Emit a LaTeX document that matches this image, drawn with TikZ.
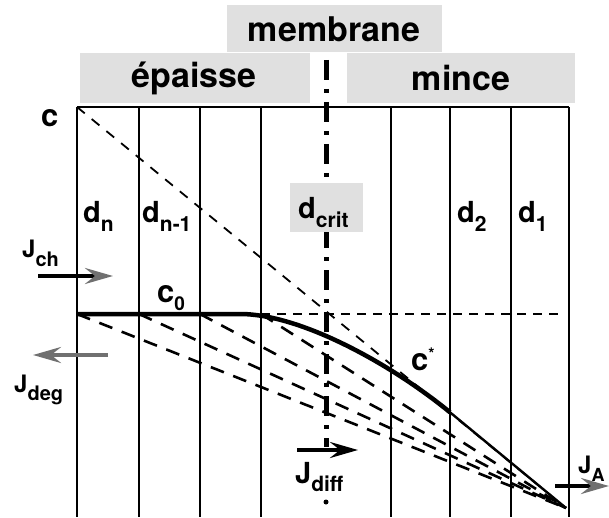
\documentclass[tikz,border=0pt]{standalone}
\usepackage{fontspec}
\setmainfont{TeX Gyre Heros}
\usetikzlibrary{arrows.meta, positioning, calc}
\definecolor{headgray}{HTML}{E0E0E0}
\definecolor{tipgray}{HTML}{707070}
\newcommand\lowidx[2][21]{\raisebox{-8pt}{\fontsize{#1}{#1}\selectfont #2}}

\begin{document}
\begin{tikzpicture}[x=1pt, y=1pt,
    headbox/.style={rectangle, fill=headgray, draw=none},
    headtext/.style={font=\fontsize{34}{34}\selectfont\bfseries, inner sep=0pt},
    lbl/.style={font=\fontsize{29}{29}\selectfont\bfseries, inner sep=0pt, anchor=base west},
    conc/.style={lbl, font=\fontsize{31}{31}\selectfont\bfseries},
    fluxlbl/.style={lbl, font=\fontsize{24}{24}\selectfont\bfseries},
    wall/.style={line width=2.4pt},
    profile/.style={line width=4.5pt, line join=round},
    fan/.style={line width=2.6pt, dash pattern=on 14pt off 10pt},
    guide/.style={line width=1.8pt, dash pattern=on 10pt off 9pt},
    level/.style={line width=2.4pt, dash pattern=on 9pt off 7pt},
    critline/.style={line width=5pt, dash pattern=on 20pt off 9pt on 4pt off 9pt},
    flux/.style={line width=4pt, -{Stealth[length=28pt, width=16pt, inset=10pt, color=tipgray]}},
]
    \useasboundingbox (0,0) rectangle (609,517);

    % header
    \fill[headbox] (227,465) rectangle (442,512);
    \fill[headbox] (80,414) rectangle (310,464);
    \fill[headbox] (347,414) rectangle (575,464);
    \node[headtext] (membrane) at (334,488) {membrane};
    \node[headtext] (epaisse) at (194,439) {épaisse};
    \node[headtext] (mince) at (461,439) {mince};

    % key points
    \coordinate (corner) at (77,410);
    \coordinate (c0start) at (77,203);
    \coordinate (knee) at (240,203);
    \coordinate (join) at (450,104.7);
    \coordinate (end) at (566,9);

    % membrane slices
    \draw[wall] (77,410) -- (569,410);
    \foreach \x in {77,139,200,261,391,450,511,569}
        \draw[wall] (\x,410) -- (\x,0);

    % profiles
    \foreach \x in {77,139,200,261}
        \draw[fan] (\x,203) -- (end);
    \draw[guide] (corner) -- (end);
    \draw[level] (261,203) -- (563,203);
    \draw[profile] (c0start) -- (knee) .. controls (300,203) and (390,153.8) .. (join);
    \draw[wall] (join) -- (end);

    % critical thickness
    \draw[critline] (326,457) -- (326,70);
    \fill (326,15) circle (2.5pt);
    \node[headbox, minimum width=73pt, minimum height=49pt] (critbox) at (326.5,309.5) {};

    % labels
    \node[conc] (c) at (41,390) {c};
    \node[lbl] (dn) at (83,294) {d\lowidx{n}};
    \node[lbl] (dn1) at (142,294) {d\lowidx{n-1}};
    \node[lbl] (dcrit) at (298,298) {d\lowidx{crit}};
    \node[lbl] (d2) at (457,294) {d\lowidx{2}};
    \node[lbl] (d1) at (518,294) {d\lowidx{1}};
    \node[conc] (c0) at (157,215) {c\lowidx[19]{0}};
    \node[conc] (cstar) at (411,147) {c\raisebox{11pt}{\fontsize{16}{16}\selectfont *}};
    \node[fluxlbl] (jch) at (22,259) {J\lowidx[20]{ch}};
    \node[fluxlbl] (jdeg) at (14,125) {J\lowidx[20]{deg}};
    \node[lbl] (jdiff) at (295,34) {J\lowidx{diff}};
    \node[fluxlbl] (ja) at (578,44) {J\lowidx[18]{A}};

    % fluxes
    \coordinate (chin) at (38,241);   \coordinate (chout) at (113,241);
    \coordinate (degin) at (108,162); \coordinate (degout) at (33,162);
    \coordinate (diffin) at (297,67); \coordinate (diffout) at (358,67);
    \coordinate (ain) at (555,31);    \coordinate (aout) at (609,31);
    \draw[flux] (chin) -- (chout);
    \draw[flux, tipgray] (degin) -- (degout);
    \draw[flux, -{Stealth[length=28pt, width=16pt, inset=10pt]}] (diffin) -- (diffout);
    \draw[flux] (ain) -- (aout);
\end{tikzpicture}
\end{document}
